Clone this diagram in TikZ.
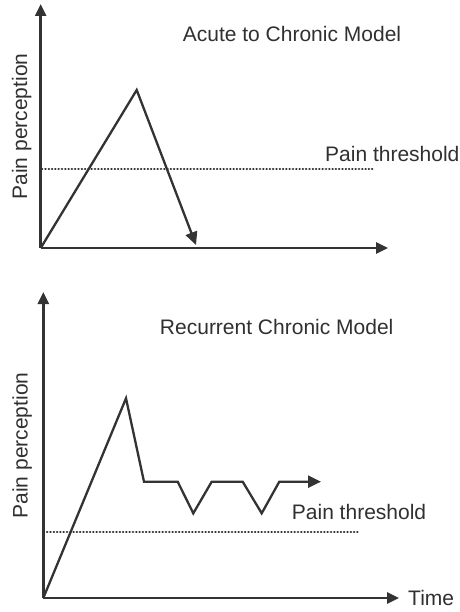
\documentclass[tikz,border=0pt]{standalone}
\usepackage{fontspec}
\setmainfont{Liberation Sans}
\usetikzlibrary{arrows.meta}
\definecolor{ink}{HTML}{333333}
\definecolor{txt}{HTML}{303030}
\begin{document}
\begin{tikzpicture}[x=1pt,y=-1pt,
  axis/.style={draw=ink,line width=2.6pt,-{Triangle[length=12pt,width=11pt]}},
  curve/.style={draw=ink,line width=2.3pt,line join=miter},
  curvearrow/.style={curve,-{Triangle[length=13pt,width=12pt]}},
  threshold/.style={draw=ink,line width=2.2pt,line cap=round,dash pattern=on 0.4pt off 2.9pt},
  lbl/.style={text=txt,font=\fontsize{21}{25}\selectfont,inner sep=0pt}]
\useasboundingbox (0,0) rectangle (459,612);

% ---------- Acute to Chronic Model ----------
\coordinate (o1) at (40.7,248);
\coordinate (ytop1) at (40.7,4);
\coordinate (xend1) at (388,248);
\coordinate (peak1) at (136.7,90);
\coordinate (end1) at (196,245);
\coordinate (thA) at (42,169.3);
\coordinate (thB) at (375,169.3);

\draw[threshold] (thA) -- (thB);
\draw[axis] (o1) -- (ytop1);
\draw[axis] (o1) -- (xend1);
\draw[curvearrow] (o1) -- (peak1) -- (end1);

\node[lbl,anchor=base] (title1) at (292,41.5) {Acute to Chronic Model};
\node[lbl,anchor=base west] (thr1) at (325,161.8) {Pain threshold};
\node[lbl,anchor=base,rotate=90] (ylab1) at (27.2,126.5) {Pain perception};

% ---------- Recurrent Chronic Model ----------
\coordinate (o2) at (43.3,598);
\coordinate (ytop2) at (43.3,292);
\coordinate (xend2) at (399,598);
\coordinate (p1) at (126,398.3);
\coordinate (p2) at (144,481.7);
\coordinate (p3) at (177.7,481.7);
\coordinate (p4) at (193.3,513.3);
\coordinate (p5) at (211.7,481.7);
\coordinate (p6) at (242.7,481.7);
\coordinate (p7) at (261.7,513.3);
\coordinate (p8) at (279.3,481.7);
\coordinate (p9) at (321,481.7);
\coordinate (thC) at (47,532.3);
\coordinate (thD) at (360,532.3);

\draw[threshold] (thC) -- (thD);
\draw[axis] (o2) -- (ytop2);
\draw[axis] (o2) -- (xend2);
\draw[curvearrow] (o2) -- (p1) -- (p2) -- (p3) -- (p4) -- (p5) -- (p6) -- (p7) -- (p8) -- (p9);

\node[lbl,anchor=base] (title2) at (276.7,334) {Recurrent Chronic Model};
\node[lbl,anchor=base west] (thr2) at (291.7,519.3) {Pain threshold};
\node[lbl,anchor=base west] (time2) at (408,605) {Time};
\node[lbl,anchor=base,rotate=90] (ylab2) at (27.5,445.5) {Pain perception};
\end{tikzpicture}
\end{document}
